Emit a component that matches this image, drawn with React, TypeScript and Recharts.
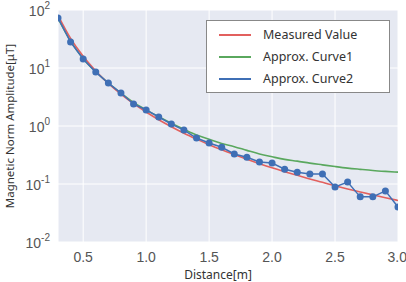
import { ComposedChart, Line, XAxis, YAxis, CartesianGrid, Label } from 'recharts'

const distance = [
  0.3, 0.4, 0.5, 0.6, 0.7, 0.8, 0.9, 1.0, 1.1, 1.2, 1.3, 1.4, 1.5, 1.6,
  1.7, 1.8, 1.9, 2.0, 2.1, 2.2, 2.3, 2.4, 2.5, 2.6, 2.7, 2.8, 2.9, 3.0,
]
const measured = [
  81, 32.4, 15.9, 8.9, 5.4, 3.54, 2.43, 1.74, 1.28, 0.97, 0.75, 0.594, 0.477, 0.388,
  0.321, 0.267, 0.224, 0.19, 0.163, 0.141, 0.122, 0.107, 0.093, 0.082, 0.073, 0.065, 0.058, 0.052,
]
const curve1 = [
  72, 29, 14.5, 8.6, 5.5, 3.7, 2.55, 1.9, 1.45, 1.12, 0.88, 0.7, 0.59, 0.5,
  0.44, 0.38, 0.33, 0.295, 0.266, 0.248, 0.229, 0.214, 0.2, 0.188, 0.179, 0.171, 0.165, 0.16,
]
const curve2 = [
  73, 28, 14.3, 8.5, 5.5, 3.7, 2.4, 1.89, 1.43, 1.08, 0.85, 0.62, 0.51, 0.43,
  0.33, 0.29, 0.24, 0.23, 0.18, 0.16, 0.149, 0.149, 0.089, 0.108, 0.06, 0.06, 0.076, 0.04,
]
const xTicks = [0.5, 1.0, 1.5, 2.0, 2.5, 3.0]
const yTicks = [0.01, 0.1, 1, 10, 100]

const RED = '#e2605e'
const GREEN = '#5aa85e'
const BLUE = '#3f6fb5'
const TICK_COLOR = '#555'

const data = distance.map((d, i) => ({
  d,
  measured: measured[i],
  curve1: curve1[i],
  curve2: curve2[i],
}))

const legendItems = [
  { label: 'Measured Value', color: RED },
  { label: 'Approx. Curve1', color: GREEN },
  { label: 'Approx. Curve2', color: BLUE },
]

function PowerTick({ x, y, payload }: any) {
  const exp = Math.round(Math.log10(payload.value))
  return (
    <text x={x} y={y} dy={6} textAnchor="end" fill={TICK_COLOR} fontSize={14} fontFamily="Liberation Sans">
      <tspan>10</tspan>
      <tspan dy={-7} fontSize={10}>{exp}</tspan>
    </text>
  )
}

function LegendBox() {
  return (
    <div
      style={{
        position: 'absolute',
        left: 206,
        top: 20,
        width: 184,
        height: 73,
        boxSizing: 'border-box',
        background: '#fff',
        border: '1px solid #888',
        padding: '3px 8px 0 12px',
        fontFamily: 'Noto Sans',
        fontSize: 12.5,
        color: '#333',
        lineHeight: '22px',
      }}
    >
      {legendItems.map((it) => (
        <div key={it.label} style={{ display: 'flex', alignItems: 'center' }}>
          <span style={{ display: 'inline-block', width: 32, height: 2, background: it.color, marginRight: 12 }} />
          {it.label}
        </div>
      ))}
    </div>
  )
}

export default function App() {
  return (
    <div style={{ position: 'absolute', left: 0, top: 0, width: 406, height: 282, background: '#fff' }}>
      <ComposedChart width={406} height={282} data={data} margin={{ top: 10, right: 8, bottom: 0, left: 0 }}>
        <CartesianGrid fill="#e6e9f2" stroke="#fff" strokeWidth={1} />
        <XAxis
          dataKey="d"
          type="number"
          domain={[0.3, 3.0]}
          ticks={xTicks}
          tickFormatter={(v: number) => v.toFixed(1)}
          axisLine={false}
          tickLine={false}
          height={40}
          dy={2}
          tick={{ fontSize: 14, fill: TICK_COLOR, fontFamily: 'Liberation Sans' }}
          allowDataOverflow
        >
          <Label
            value="Distance[m]"
            position="insideBottom"
            offset={3}
            dx={-10}
            style={{ fontSize: 12, fill: '#333', fontFamily: 'Noto Sans' }}
          />
        </XAxis>
        <YAxis
          scale="log"
          type="number"
          domain={[0.01, 100]}
          ticks={yTicks}
          axisLine={false}
          tickLine={false}
          width={58}
          tick={<PowerTick />}
          allowDataOverflow
        >
          <Label
            value="Magnetic Norm Amplitude[μT]"
            angle={-90}
            position="insideLeft"
            offset={10}
            style={{ textAnchor: 'middle', fontSize: 11.5, fill: '#333', fontFamily: 'Noto Sans' }}
          />
        </YAxis>
        <Line dataKey="curve1" stroke={GREEN} strokeWidth={1.6} dot={false} type="monotone" isAnimationActive={false} />
        <Line dataKey="measured" stroke={RED} strokeWidth={1.6} dot={false} type="monotone" isAnimationActive={false} />
        <Line
          dataKey="curve2"
          stroke={BLUE}
          strokeWidth={1.5}
          dot={{ r: 3.5, fill: BLUE, stroke: BLUE, strokeWidth: 0 }}
          type="linear"
          isAnimationActive={false}
        />
      </ComposedChart>
      <LegendBox />
    </div>
  )
}
